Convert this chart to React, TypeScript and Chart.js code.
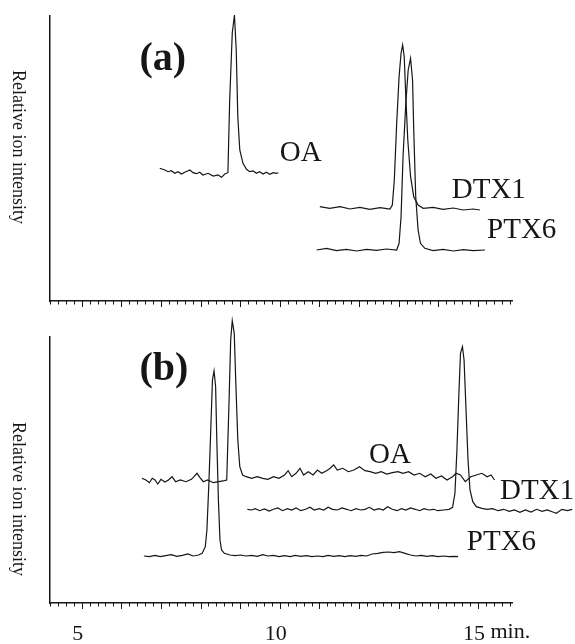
import React, { useEffect, useRef } from "react";
import { Chart, registerables } from "chart.js";

Chart.register(...registerables);

const FONT = "'Liberation Serif', 'Times New Roman', serif";
const INK = "#161616";

// ---- axis ----
const X_MIN = 4.2;
const X_MAX = 15.86;
const X_TICK_STEP = 0.2;
const X_TICK_LABELS = [5, 10, 15];
const X_UNIT = "min.";
const Y_TITLE = "Relative ion intensity";

// ---- panel (a): time (min) vs relative intensity ----
const A_Y_MAX = 285;
const A_OA: number[][] = [
  [6.97, 132.7], [7.1, 131], [7.18, 129.3], [7.26, 130.3], [7.35, 127.7], [7.43, 129.3],
  [7.52, 127], [7.6, 128.7], [7.73, 131], [7.81, 128.3], [7.9, 127.3], [7.98, 128.7],
  [8.06, 126], [8.19, 127.7], [8.32, 125], [8.44, 126], [8.53, 123.7], [8.61, 127],
  [8.69, 128.3], [8.735, 201], [8.8, 268], [8.855, 286], [8.9, 251], [8.94, 184],
  [8.99, 151], [9.07, 137.7], [9.16, 131.7], [9.24, 129.3], [9.33, 130], [9.41, 127.7],
  [9.49, 129.3], [9.58, 127], [9.66, 128.7], [9.75, 126.7], [9.83, 128.3], [9.92, 127.7],
  [9.96, 128.3],
];
const A_DTX1: number[][] = [
  [11.01, 94.3], [11.26, 92.7], [11.52, 94.3], [11.77, 92], [12.02, 93.7], [12.27, 91.7],
  [12.53, 93.3], [12.78, 92], [12.84, 96], [12.89, 121], [12.95, 177.7], [13.01, 224.3],
  [13.06, 247.7], [13.1, 256], [13.14, 244.3], [13.18, 204.3], [13.23, 161], [13.3, 124.3],
  [13.38, 104.3], [13.49, 96], [13.62, 92.7], [13.87, 93.7], [14.12, 91.7], [14.38, 93],
  [14.63, 91], [14.88, 92], [15.05, 91],
];
const A_PTX6: number[][] = [
  [10.93, 51], [11.18, 52.7], [11.43, 50.3], [11.68, 51.7], [11.94, 50], [12.19, 51.7],
  [12.44, 50.7], [12.69, 52], [12.95, 51], [13.01, 57.7], [13.06, 84.3], [13.11, 144.3],
  [13.18, 197.7], [13.24, 231], [13.3, 242.7], [13.35, 221], [13.38, 171], [13.43, 104.3],
  [13.49, 71], [13.55, 57.7], [13.66, 52.7], [13.87, 50.3], [14.12, 51.7], [14.38, 50],
  [14.63, 51.3], [14.88, 50.3], [15.18, 51],
];

// ---- panel (b) ----
const B_Y_MAX = 266;
const B_OA: number[][] = [
  [6.52, 124.7], [6.62, 123], [6.71, 120.3], [6.78, 124.7], [6.85, 123], [6.92, 119],
  [7.0, 123.7], [7.1, 121], [7.19, 123], [7.28, 126.3], [7.37, 121.3], [7.49, 123],
  [7.63, 121.3], [7.77, 123.7], [7.91, 129.7], [7.98, 125.7], [8.07, 121.3], [8.18, 123],
  [8.32, 120.3], [8.46, 121.3], [8.6, 122.3], [8.66, 123], [8.72, 203], [8.76, 263],
  [8.8, 282.3], [8.85, 269.7], [8.89, 219.7], [8.94, 163], [8.99, 136.3], [9.06, 128],
  [9.15, 126.3], [9.29, 124.7], [9.43, 126.3], [9.57, 124.7], [9.7, 123.7], [9.84, 126.3],
  [9.98, 124.7], [10.12, 128], [10.21, 132.3], [10.3, 126.3], [10.41, 129.7], [10.51, 134.7],
  [10.6, 128], [10.72, 131.3], [10.84, 128], [10.95, 133], [11.06, 129.7], [11.18, 132.3],
  [11.27, 134.7], [11.36, 138], [11.45, 133], [11.59, 134.7], [11.73, 131.3], [11.87, 133],
  [12.01, 136.3], [12.15, 132.3], [12.28, 131.3], [12.42, 129.7], [12.56, 131.3], [12.7, 129],
  [12.84, 130.3], [12.98, 131.3], [13.11, 129.7], [13.25, 131.3], [13.39, 128], [13.53, 129.7],
  [13.67, 126.3], [13.81, 129], [13.94, 124.7], [14.08, 127], [14.22, 123], [14.36, 126.3],
  [14.45, 129.7], [14.56, 128], [14.68, 121.3], [14.82, 126.3], [14.96, 128], [15.1, 129.7],
  [15.23, 126.3], [15.33, 128], [15.42, 123],
];
const B_DTX1: number[][] = [
  [9.18, 93.7], [9.29, 93], [9.38, 94.3], [9.49, 92.3], [9.61, 94], [9.73, 92],
  [9.84, 93.7], [9.95, 95], [10.07, 92.3], [10.19, 94.3], [10.3, 93], [10.41, 95],
  [10.53, 92.3], [10.65, 93.7], [10.76, 95.7], [10.87, 93], [10.99, 94.3], [11.11, 93],
  [11.22, 95.7], [11.33, 93.7], [11.45, 93], [11.57, 95], [11.69, 93.7], [11.8, 92.3],
  [11.92, 94.3], [12.04, 93], [12.15, 93.7], [12.26, 95.7], [12.38, 93], [12.5, 94.3],
  [12.61, 93], [12.72, 96.3], [12.84, 93.7], [12.96, 92.3], [13.07, 94.3], [13.18, 93],
  [13.3, 95], [13.42, 93.7], [13.53, 92.3], [13.64, 94.3], [13.76, 93], [13.88, 93.7],
  [13.99, 92.3], [14.13, 93], [14.27, 93.7], [14.36, 95.7], [14.42, 109.7], [14.47, 153],
  [14.52, 209.7], [14.56, 249.7], [14.61, 256.3], [14.65, 243], [14.7, 193], [14.75, 143],
  [14.8, 113], [14.87, 101.3], [14.96, 96.3], [15.1, 94.7], [15.23, 93.7], [15.37, 94.3],
  [15.51, 92.3], [15.65, 93.7], [15.79, 91.7], [15.92, 93], [16.06, 90.7], [16.2, 93],
  [16.34, 91], [16.48, 93.7], [16.62, 91.7], [16.75, 93], [16.89, 91], [16.98, 89.7],
  [17.12, 93.7], [17.26, 92.3], [17.38, 93.7],
];
const B_PTX6: number[][] = [
  [6.57, 47], [6.71, 46.3], [6.85, 47.7], [6.98, 46.3], [7.12, 47.3], [7.26, 48.3],
  [7.4, 46.7], [7.54, 47.7], [7.68, 49], [7.81, 47], [7.95, 48], [8.04, 49.7],
  [8.12, 56.3], [8.16, 73], [8.21, 119.7], [8.26, 176.3], [8.3, 223], [8.34, 232],
  [8.38, 216.3], [8.41, 163], [8.45, 103], [8.49, 63], [8.53, 53], [8.6, 49.7],
  [8.74, 48], [8.87, 47.3], [9.01, 48], [9.15, 47], [9.29, 47.7], [9.43, 46.7],
  [9.57, 48.3], [9.7, 47], [9.84, 47.7], [9.98, 46.3], [10.12, 47.3], [10.26, 46.3],
  [10.39, 47.7], [10.53, 46.7], [10.67, 47.3], [10.81, 46.3], [10.95, 47], [11.09, 46.3],
  [11.22, 47.7], [11.36, 46.7], [11.5, 47.3], [11.64, 46.3], [11.78, 47.3], [11.92, 46.7],
  [12.05, 47.7], [12.19, 47], [12.33, 49], [12.47, 49.7], [12.61, 50.7], [12.75, 51],
  [12.88, 50.3], [13.02, 51.3], [13.16, 49.7], [13.3, 48], [13.44, 47], [13.57, 47.7],
  [13.71, 46.7], [13.85, 47.3], [13.99, 46.3], [14.13, 47], [14.27, 46.3], [14.4, 46.7],
  [14.5, 46.3],
];

// ---- annotation texts (time, intensity) ----
type Note = { text: string; x: number; y: number; size: number; bold?: boolean };
const A_NOTES: Note[] = [
  { text: "(a)", x: 6.46, y: 241, size: 40, bold: true },
  { text: "OA", x: 10.0, y: 148, size: 29 },
  { text: "DTX1", x: 14.34, y: 111, size: 29 },
  { text: "PTX6", x: 15.23, y: 71, size: 29 },
];
const B_NOTES: Note[] = [
  { text: "(b)", x: 6.46, y: 233, size: 40, bold: true },
  { text: "OA", x: 12.25, y: 148, size: 29 },
  { text: "DTX1", x: 15.56, y: 112, size: 29 },
  { text: "PTX6", x: 14.72, y: 61, size: 29 },
];
const A_TITLE_AT = 154;
const B_TITLE_AT = 104;
const LABEL_SHIFT = -4;

const toXY = (arr: number[][]) => arr.map(([x, y]) => ({ x, y }));

const lineDs = (label: string, arr: number[][]) => ({
  label,
  data: toXY(arr),
  borderColor: INK,
  borderWidth: 1.2,
  pointRadius: 0,
  tension: 0,
  fill: false,
  clip: false as const,
});

function decorPlugin(notes: Note[], titleAt: number, withUnit: boolean) {
  return {
    id: "decor",
    afterDraw(chart: any) {
      const { ctx, chartArea, scales } = chart;
      const xs = scales.x;
      const ys = scales.y;
      ctx.save();
      // tick marks: long at whole minutes, short otherwise
      ctx.strokeStyle = INK;
      ctx.lineWidth = 1;
      xs.ticks.forEach((tk: any) => {
        const v = tk.value;
        const k = v / X_TICK_STEP;
        if (Math.abs(k - Math.round(k)) > 1e-6) return;
        const major = Math.abs(v - Math.round(v)) < 1e-6;
        const px = Math.round(xs.getPixelForValue(v)) + 0.5;
        ctx.beginPath();
        ctx.moveTo(px, chartArea.bottom);
        ctx.lineTo(px, chartArea.bottom + (major ? 6 : 3.5));
        ctx.stroke();
      });
      // annotations
      ctx.fillStyle = INK;
      ctx.textAlign = "left";
      ctx.textBaseline = "middle";
      notes.forEach((n) => {
        ctx.font = `${n.bold ? "bold " : ""}${n.size}px ${FONT}`;
        ctx.fillText(n.text, xs.getPixelForValue(n.x), ys.getPixelForValue(n.y));
      });
      // y title
      ctx.save();
      ctx.translate(chartArea.left - 32, ys.getPixelForValue(titleAt));
      ctx.rotate(Math.PI / 2);
      ctx.textAlign = "center";
      ctx.textBaseline = "middle";
      ctx.font = `18px ${FONT}`;
      ctx.fillText(Y_TITLE, 0, 0);
      ctx.restore();
      // unit after last tick label
      if (withUnit) {
        const last = X_TICK_LABELS[X_TICK_LABELS.length - 1];
        ctx.font = `22px ${FONT}`;
        const w = ctx.measureText(String(last)).width;
        const sp = ctx.measureText(" ").width;
        ctx.textAlign = "left";
        ctx.textBaseline = "top";
        ctx.fillText(X_UNIT, xs.getPixelForValue(last) + LABEL_SHIFT + w / 2 + sp, chartArea.bottom + 18);
      }
      ctx.restore();
    },
  };
}

function makeConfig(
  sets: { label: string; arr: number[][] }[],
  yMax: number,
  notes: Note[],
  titleAt: number,
  padTop: number,
  xAxisHeight: number,
  showLabels: boolean
): any {
  return {
    type: "line",
    data: { datasets: sets.map((s) => lineDs(s.label, s.arr)) },
    options: {
      animation: false,
      responsive: false,
      devicePixelRatio: 1,
      layout: { padding: { top: padTop, right: 63, left: 0, bottom: 0 } },
      plugins: { legend: { display: false }, tooltip: { enabled: false } },
      scales: {
        x: {
          type: "linear",
          bounds: "data",
          afterDataLimits: (s: any) => {
            s.min = X_MIN;
            s.max = X_MAX;
          },
          afterFit: (s: any) => {
            s.height = xAxisHeight;
          },
          ticks: {
            display: showLabels,
            stepSize: X_TICK_STEP,
            autoSkip: false,
            maxRotation: 0,
            padding: 18,
            labelOffset: LABEL_SHIFT,
            color: INK,
            font: { family: FONT, size: 22 },
            callback: (v: number) => {
              const r = Math.round(v);
              return Math.abs(v - r) < 1e-6 && X_TICK_LABELS.includes(r) ? String(r) : "";
            },
          },
          grid: { display: false, drawTicks: false },
          border: { display: true, color: INK, width: 1.5 },
        },
        y: {
          min: 0,
          max: yMax,
          afterFit: (s: any) => {
            s.width = 50;
          },
          ticks: { display: false },
          grid: { display: false, drawTicks: false },
          border: { display: true, color: INK, width: 1.5 },
        },
      },
    },
    plugins: [decorPlugin(notes, titleAt, showLabels)],
  };
}

export default function App() {
  const topRef = useRef<HTMLCanvasElement>(null);
  const botRef = useRef<HTMLCanvasElement>(null);

  useEffect(() => {
    const a = new Chart(
      topRef.current as HTMLCanvasElement,
      makeConfig(
        [
          { label: "OA", arr: A_OA },
          { label: "DTX1", arr: A_DTX1 },
          { label: "PTX6", arr: A_PTX6 },
        ],
        A_Y_MAX,
        A_NOTES,
        A_TITLE_AT,
        16,
        11,
        false
      )
    );
    const b = new Chart(
      botRef.current as HTMLCanvasElement,
      makeConfig(
        [
          { label: "OA", arr: B_OA },
          { label: "DTX1", arr: B_DTX1 },
          { label: "PTX6", arr: B_PTX6 },
        ],
        B_Y_MAX,
        B_NOTES,
        B_TITLE_AT,
        31,
        41,
        true
      )
    );
    return () => {
      a.destroy();
      b.destroy();
    };
  }, []);

  return (
    <div style={{ position: "absolute", left: 0, top: 0, width: 575, height: 644, background: "#fff" }}>
      <canvas ref={topRef} width={575} height={312} style={{ position: "absolute", left: 0, top: 0 }} />
      <canvas ref={botRef} width={575} height={338} style={{ position: "absolute", left: 0, top: 306 }} />
    </div>
  );
}
